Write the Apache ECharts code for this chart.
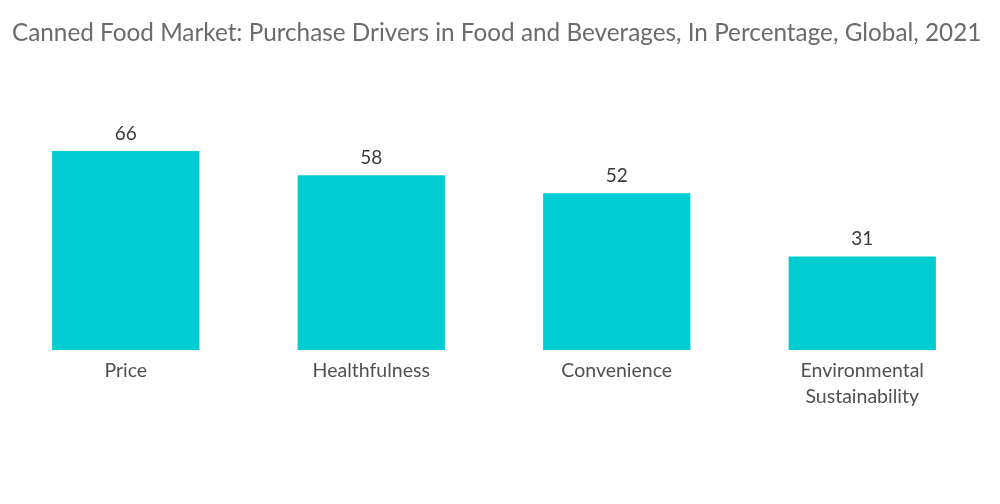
<!DOCTYPE html>
<html>
<head>
<meta charset="utf-8">
<script src="https://cdn.jsdelivr.net/npm/echarts@6/dist/echarts.min.js"></script>
<style>
  html, body { margin: 0; padding: 0; background: #ffffff; }
  #chart { width: 1000px; height: 504px; }
</style>
</head>
<body>
<div id="chart"></div>
<script>
const categories = ['Price', 'Healthfulness', 'Convenience', 'Environmental\nSustainability']
const values = [66, 58, 52, 31]

const chart = echarts.init(document.getElementById('chart'))
chart.setOption({
  backgroundColor: '#ffffff',
  animation: false,
  title: {
    text: 'Canned Food Market: Purchase Drivers in Food and Beverages, In Percentage, Global, 2021',
    left: 7,
    top: 16,
    textStyle: {
      color: '#6b6b6b',
      fontSize: 24.3,
      fontWeight: 'normal',
      fontFamily: 'Lato'
    }
  },
  grid: {
    left: 3,
    right: 15,
    top: 139,
    bottom: 154
  },
  xAxis: {
    type: 'category',
    data: categories,
    axisLine: { show: false },
    axisTick: { show: false },
    axisLabel: {
      color: '#505050',
      fontSize: 19.5,
      fontFamily: 'Lato',
      margin: 8,
      lineHeight: 26,
      interval: 0
    }
  },
  yAxis: {
    type: 'value',
    min: 0,
    max: 70,
    show: false,
    splitLine: { show: false }
  },
  series: [
    {
      type: 'bar',
      data: values,
      barWidth: '60%',
      itemStyle: { color: '#00cdd1' },
      label: {
        show: true,
        position: 'top',
        distance: 8,
        color: '#3a3a3a',
        fontSize: 19,
        fontFamily: 'Lato'
      }
    }
  ]
})
</script>
</body>
</html>
